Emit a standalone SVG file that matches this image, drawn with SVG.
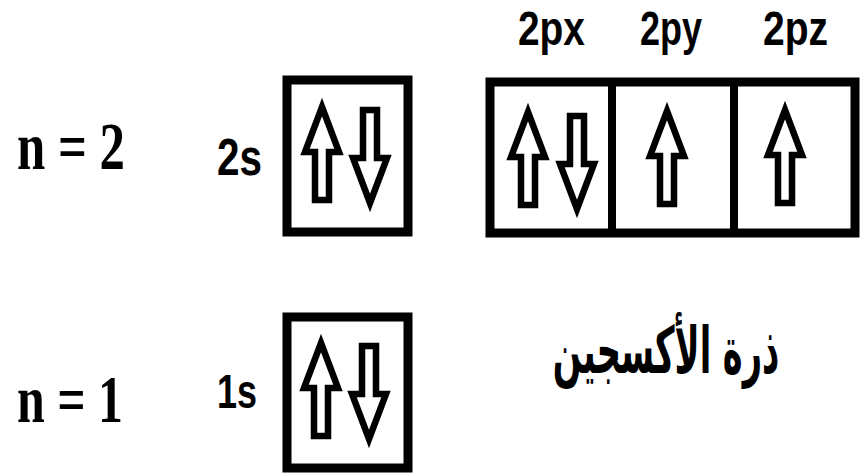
<svg xmlns="http://www.w3.org/2000/svg" xmlns:xlink="http://www.w3.org/1999/xlink" width="863" height="475" viewBox="0 0 863 475">
<style>
.box{fill:none;stroke:#000;stroke-width:9}
.arrow{fill:none;stroke:#000;stroke-width:6.5;stroke-linejoin:miter}
.serif{font-family:"Liberation Serif","Times New Roman",serif;font-weight:bold;fill:#000}
.sans{font-family:"Liberation Sans",Arial,sans-serif;font-weight:bold;fill:#000}
.ar{font-family:"DejaVu Sans",sans-serif;font-weight:bold;fill:#000}
</style>
<defs>
<path id="up" class="arrow" d="M0,4 L17,49 L7,49 L7,97 L-7,97 L-7,49 L-17,49 Z"/>
</defs>
<rect width="863" height="475" fill="#fff"/>
<g id="level-n2">
<text class="serif" x="17" y="169" font-size="68" textLength="108" lengthAdjust="spacingAndGlyphs">n = 2</text>
</g>
<g id="level-n1">
<text class="serif" x="17" y="422" font-size="68" textLength="106" lengthAdjust="spacingAndGlyphs">n = 1</text>
</g>
<g id="orbital-2s">
<text class="sans" x="217" y="175" font-size="52" textLength="45" lengthAdjust="spacingAndGlyphs">2s</text>
<rect class="box" x="287" y="80" width="121" height="152"/>
<use xlink:href="#up" href="#up" transform="translate(322,103)"/>
<use xlink:href="#up" href="#up" transform="translate(370,207) rotate(180)"/>
</g>
<g id="orbital-1s">
<text class="sans" x="217" y="408" font-size="48" textLength="40" lengthAdjust="spacingAndGlyphs">1s</text>
<rect class="box" x="287" y="317" width="121" height="151"/>
<use xlink:href="#up" href="#up" transform="translate(321,339)"/>
<use xlink:href="#up" href="#up" transform="translate(369,443) rotate(180)"/>
</g>
<g id="orbital-2p">
<text class="sans" x="518" y="45" font-size="48" textLength="67" lengthAdjust="spacingAndGlyphs">2px</text>
<text class="sans" x="640" y="45" font-size="48" textLength="62" lengthAdjust="spacingAndGlyphs">2py</text>
<text class="sans" x="763" y="45" font-size="48" textLength="65" lengthAdjust="spacingAndGlyphs">2pz</text>
<rect class="box" x="490" y="82" width="365" height="151"/>
<line x1="612" y1="82" x2="612" y2="233" stroke="#000" stroke-width="8"/>
<line x1="734" y1="82" x2="734" y2="233" stroke="#000" stroke-width="8"/>
<use xlink:href="#up" href="#up" transform="translate(528,108)"/>
<use xlink:href="#up" href="#up" transform="translate(577,213) rotate(180)"/>
<use xlink:href="#up" href="#up" transform="translate(667,107)"/>
<use xlink:href="#up" href="#up" transform="translate(785,106)"/>
</g>
<g id="caption">
<text class="ar" transform="translate(666,373) scale(0.7,1.35)" x="0" y="0" font-size="48" text-anchor="middle" direction="rtl">ذرة الأكسجين</text>
</g>
</svg>
